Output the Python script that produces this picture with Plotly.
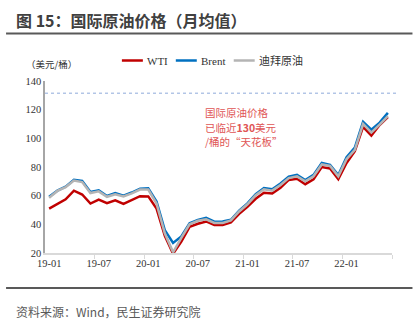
import plotly.graph_objects as go

months = [f"{y}-{m:02d}" for y in (19, 20, 21, 22) for m in range(1, 13)][:42]

wti = [51.0, 54.5, 57.5, 63.5, 60.8, 54.5, 57.3, 54.8, 56.8, 54.2, 57.0, 59.6,
       59.5, 51.0, 32.0, 19.5, 28.0, 38.3, 40.4, 42.0, 39.5, 39.5, 41.4, 47.3,
       52.2, 57.8, 62.0, 61.5, 65.5, 71.0, 71.8, 68.0, 71.4, 80.0, 79.0, 71.5,
       82.8, 91.0, 108.0, 101.9, 109.3, 114.8]
brent = [59.3, 63.5, 66.3, 71.0, 70.3, 62.6, 63.8, 59.8, 61.8, 60.0, 62.2, 64.9,
         65.2, 56.0, 36.0, 27.0, 31.5, 40.8, 43.0, 44.5, 41.8, 42.0, 43.2, 49.6,
         54.6, 61.0, 65.3, 64.5, 68.5, 73.2, 74.5, 70.9, 74.5, 82.8, 81.5, 74.4,
         86.8, 93.5, 111.5, 106.0, 111.0, 117.8]
dubai = [58.6, 63.3, 66.0, 70.5, 69.5, 61.8, 63.0, 59.2, 61.0, 59.4, 61.6, 64.3,
         64.3, 54.5, 33.8, 20.5, 30.5, 40.0, 42.5, 43.5, 41.0, 40.9, 42.8, 49.0,
         54.0, 60.3, 64.5, 63.5, 67.5, 72.3, 73.5, 70.0, 73.5, 81.8, 80.7, 73.5,
         85.5, 92.0, 110.0, 104.0, 109.5, 115.5]
ceiling = 131.5
series_names = ["WTI", "Brent", "迪拜原油"]
series_colors = ["#c00000", "#0070c0", "#b4b4b4"]
y_ticks = [20, 40, 60, 80, 100, 120, 140]
x_label_months = ["19-01", "19-07", "20-01", "20-07", "21-01", "21-07", "22-01"]
note_lines = ["国际原油价格", "已临近<b>130</b>美元", "/桶的“天花板”"]

idx = list(range(len(months)))
x_tickvals = [months.index(m) for m in x_label_months]
boundary_ticks = [v - 0.5 for v in x_tickvals[1:]] + [len(months) - 0.5]

SERIF = "Liberation Serif, Times New Roman, Noto Sans CJK SC, serif"
CJK = "Noto Sans CJK SC, sans-serif"

# plot area in pixels
L, R, T, B = 45, 392.5, 81, 253
PW, PH = R - L, B - T


def px(x):
    return (x - L) / PW


def py(y):
    return (B - y) / PH


fig = go.Figure()
for name, vals, color in zip(series_names, [wti, brent, dubai], series_colors):
    fig.add_trace(go.Scatter(x=idx, y=vals, mode="lines", name=name,
                             line=dict(color=color, width=2.5),
                             showlegend=False, hoverinfo="skip"))

shapes = [
    dict(type="line", xref="paper", yref="y", x0=0, x1=px(399), y0=ceiling, y1=ceiling,
         line=dict(color="#8eaadb", width=1, dash="dot")),
    dict(type="line", xref="paper", yref="paper", x0=px(6), x1=px(413),
         y0=py(33.5), y1=py(33.5), line=dict(color="#595959", width=2)),
    dict(type="line", xref="paper", yref="paper", x0=px(6), x1=px(413),
         y0=py(288), y1=py(288), line=dict(color="#595959", width=2)),
]

annotations = [
    dict(text="<b>图 15：国际原油价格（月均值）</b>", xref="paper", yref="paper",
         x=px(14), y=py(20), xanchor="left", yanchor="middle",
         showarrow=False, font=dict(family=CJK, size=16, color="#404040")),
    dict(text="资料来源：Wind，民生证券研究院", xref="paper", yref="paper",
         x=px(14), y=py(311), xanchor="left", yanchor="middle",
         showarrow=False, font=dict(family=CJK, size=12, color="#595959")),
    dict(text="（美元/桶）", xref="paper", yref="paper",
         x=px(24), y=py(64), xanchor="left", yanchor="middle",
         showarrow=False, font=dict(family=CJK, size=9.5, color="#333333")),
]
for i, line in enumerate(note_lines):
    annotations.append(dict(text=line, xref="paper", yref="paper",
                            x=px(203), y=py(112.5 + 14.5 * i), xanchor="left", yanchor="middle",
                            showarrow=False,
                            font=dict(family=CJK, size=10.5, color="#e05555")))

# legend (custom, to match the short sample lines of the reference)
legend_line_x = [122, 176, 234]
legend_y = 60.5
for name, color, lx in zip(series_names, series_colors, legend_line_x):
    shapes.append(dict(type="line", xref="paper", yref="paper", x0=px(lx), x1=px(lx + 21),
                       y0=py(legend_y), y1=py(legend_y), line=dict(color=color, width=2.5)))
    annotations.append(dict(text=name, xref="paper", yref="paper", x=px(lx + 23),
                            y=py(legend_y), xanchor="left", yanchor="middle", showarrow=False,
                            font=dict(family=SERIF, size=11, color="#333333")))

fig.update_layout(
    width=420, height=327,
    margin=dict(l=L, r=420 - R, t=T, b=327 - B),
    paper_bgcolor="white", plot_bgcolor="white",
    showlegend=False,
    xaxis=dict(range=[-0.5, len(months) - 0.5], tickmode="array",
               tickvals=x_tickvals, ticktext=x_label_months, ticks="",
               showgrid=False, zeroline=False, showline=True,
               linecolor="#d9d9d9", linewidth=1.5,
               tickfont=dict(family=SERIF, size=10.5, color="#333333"),
               minor=dict(tickmode="array", tickvals=boundary_ticks, ticks="outside",
                          ticklen=4, tickcolor="#d9d9d9", tickwidth=1, showgrid=False)),
    yaxis=dict(range=[20, 140], tickmode="array", tickvals=y_ticks, ticks="",
               showgrid=False, zeroline=False, showline=True,
               linecolor="#a6a6a6", linewidth=1.5,
               tickfont=dict(family=SERIF, size=10.5, color="#333333")),
    shapes=shapes,
    annotations=annotations,
)

fig.write_html("out.html")
